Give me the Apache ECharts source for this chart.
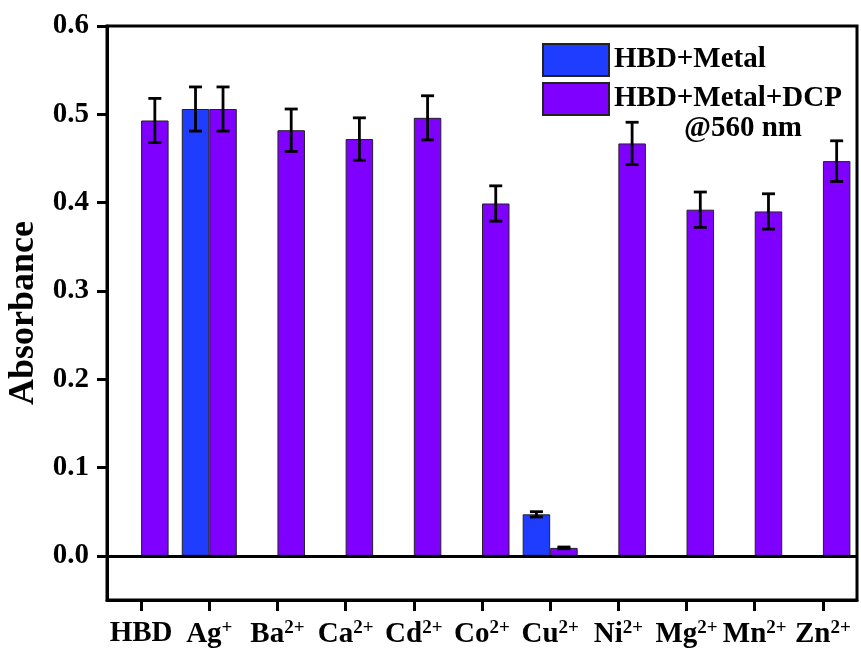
<!DOCTYPE html>
<html lang="en">
<head>
    <meta charset="UTF-8">
    <title>Absorbance</title>
    <script src="https://cdn.jsdelivr.net/npm/echarts@6/dist/echarts.min.js"></script>
    <style>
        html, body { margin: 0; padding: 0; background: #fff; }
        #chart { width: 861px; height: 655px; }
    </style>
</head>
<body>
<div id="chart"></div>
<script type="text/javascript">
    // categories (label text uses rich superscripts)
    var categories = ['HBD', 'Ag{s|+}', 'Ba{s|2+}', 'Ca{s|2+}', 'Cd{s|2+}', 'Co{s|2+}', 'Cu{s|2+}', 'Ni{s|2+}', 'Mg{s|2+}', 'Mn{s|2+}', 'Zn{s|2+}'];

    // HBD+Metal (only Ag and Cu measured)
    var metal = [null, 0.506, null, null, null, null, 0.047, null, null, null, null];
    var metalErr = [null, 0.025, null, null, null, null, 0.003, null, null, null, null];

    // HBD+Metal+DCP
    var metalDcp = [0.493, 0.506, 0.482, 0.472, 0.496, 0.399, 0.009, 0.467, 0.392, 0.390, 0.447];
    var metalDcpErr = [0.025, 0.025, 0.024, 0.024, 0.025, 0.020, 0.001, 0.024, 0.020, 0.020, 0.023];

    // y tick labels
    var yTicks = [0, 0.1, 0.2, 0.3, 0.4, 0.5, 0.6];

    var font = 'Liberation Serif';
    var barW = 27.5;

    function errData(vals, errs) {
        var out = [];
        for (var i = 0; i < vals.length; i++) {
            if (vals[i] != null) out.push([i, vals[i], errs[i]]);
        }
        return out;
    }

    function errRender(offset) {
        return function (params, api) {
            var i = api.value(0);
            var v = api.value(1);
            var e = api.value(2);
            var hi = api.coord([i, v + e]);
            var lo = api.coord([i, v - e]);
            var x = hi[0] + offset;
            var cap = 6.5;
            var st = { stroke: '#000', lineWidth: 2.8 };
            return {
                type: 'group',
                children: [
                    { type: 'line', shape: { x1: x, y1: hi[1], x2: x, y2: lo[1] }, style: st },
                    { type: 'line', shape: { x1: x - cap, y1: hi[1], x2: x + cap, y2: hi[1] }, style: st },
                    { type: 'line', shape: { x1: x - cap, y1: lo[1], x2: x + cap, y2: lo[1] }, style: st }
                ]
            };
        };
    }

    var myChart = echarts.init(document.getElementById('chart'));

    var option = {
        animation: false,
        grid: {
            left: 107, right: 4, top: 26, bottom: 55,
            containLabel: false,
            outerBoundsMode: 'none',
            show: true, borderColor: '#000', borderWidth: 3
        },
        legend: {
            orient: 'vertical',
            left: 537, top: 38,
            itemWidth: 66, itemHeight: 32, itemGap: 5,
            icon: 'rect',
            textStyle: { fontFamily: font, fontWeight: 'bold', fontSize: 29, color: '#000' },
            data: ['HBD+Metal', 'HBD+Metal+DCP']
        },
        graphic: [{
            type: 'text', left: 684, top: 114,
            style: { text: '@560 nm', font: 'bold 29px "Liberation Serif"', fill: '#000' }
        }],
        xAxis: {
            type: 'category',
            data: categories,
            axisLine: { show: true, onZero: false, lineStyle: { color: '#000', width: 3 } },
            axisTick: { show: true, interval: 0, alignWithLabel: true, inside: false, length: 11, lineStyle: { width: 3, color: '#000' } },
            axisLabel: {
                interval: 0,
                hideOverlap: false,
                margin: 19,
                color: '#000',
                fontFamily: font, fontWeight: 'bold', fontSize: 29,
                rich: {
                    s: { fontFamily: font, fontWeight: 'bold', fontSize: 19, color: '#000', verticalAlign: 'bottom', padding: [0, 0, 13, 0] }
                }
            }
        },
        yAxis: {
            type: 'value',
            min: -0.05, max: 0.6,
            name: 'Absorbance',
            nameLocation: 'middle',
            nameGap: 64,
            nameTextStyle: { fontFamily: font, fontWeight: 'bold', fontSize: 36, color: '#000' },
            splitLine: { show: false },
            axisLine: { show: true, lineStyle: { color: '#000', width: 3 } },
            axisTick: { show: true, length: 10, customValues: yTicks, lineStyle: { width: 3, color: '#000' } },
            axisLabel: {
                margin: 18,
                customValues: yTicks,
                color: '#000',
                fontFamily: font, fontWeight: 'bold', fontSize: 29,
                formatter: function (v) { return v.toFixed(1); }
            }
        },
        series: [
            {
                name: 'HBD+Metal', type: 'bar', data: metal,
                barWidth: barW, barGap: '0%',
                itemStyle: { color: '#1f3dff', borderColor: '#222', borderWidth: 1 },
                markLine: {
                    silent: true, symbol: 'none', label: { show: false },
                    lineStyle: { color: '#000', width: 3, type: 'solid' },
                    data: [{ yAxis: 0 }]
                }
            },
            {
                name: 'HBD+Metal+DCP', type: 'bar', data: metalDcp,
                barWidth: barW, barGap: '0%',
                itemStyle: { color: '#7f00ff', borderColor: '#222', borderWidth: 1 }
            },
            {
                type: 'custom', data: errData(metal, metalErr), z: 5,
                renderItem: errRender(-barW / 2)
            },
            {
                type: 'custom', data: errData(metalDcp, metalDcpErr), z: 5,
                renderItem: errRender(barW / 2)
            }
        ]
    };

    myChart.setOption(option);
</script>
</body>
</html>
